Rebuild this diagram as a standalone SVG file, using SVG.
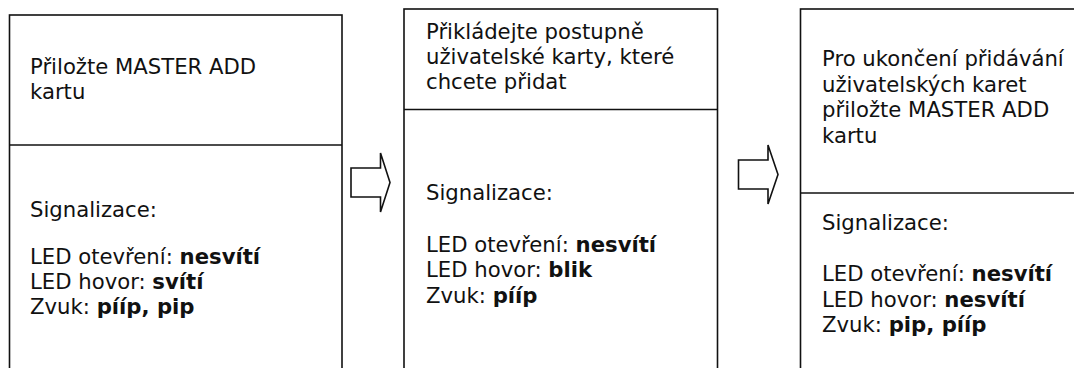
<svg xmlns="http://www.w3.org/2000/svg" width="1074" height="368" viewBox="0 0 1074 368">
<style>
.box{fill:#fff;stroke:#111;stroke-width:1.6}
.div{stroke:#111;stroke-width:1.6}
.arrow{fill:#fff;stroke:#111;stroke-width:1.6;stroke-linejoin:miter}
text{font-family:"DejaVu Sans","Liberation Sans",sans-serif;font-size:21.2px;fill:#111}
.b{font-weight:bold}
</style>
<rect width="1074" height="368" fill="#fff"/>
<g id="step1">
<rect class="box" x="9.5" y="15" width="332.5" height="370"/>
<line class="div" x1="9.5" y1="145" x2="342" y2="145"/>
<text x="30" y="74">Přiložte MASTER ADD</text>
<text x="30" y="99">kartu</text>
<text x="30" y="217">Signalizace:</text>
<text x="30" y="264">LED otevření: <tspan class="b">nesvítí</tspan></text>
<text x="30" y="289">LED hovor: <tspan class="b">svítí</tspan></text>
<text x="30" y="314">Zvuk: <tspan class="b">pííp, pip</tspan></text>
</g>
<g id="step2">
<rect class="box" x="404" y="9" width="313.5" height="380"/>
<line class="div" x1="404" y1="109.5" x2="717.5" y2="109.5"/>
<text x="426" y="39">Přikládejte postupně</text>
<text x="426" y="64">uživatelské karty, které</text>
<text x="426" y="89">chcete přidat</text>
<text x="426" y="200">Signalizace:</text>
<text x="426" y="251.5">LED otevření: <tspan class="b">nesvítí</tspan></text>
<text x="426" y="277">LED hovor: <tspan class="b">blik</tspan></text>
<text x="426" y="302.5">Zvuk: <tspan class="b">pííp</tspan></text>
</g>
<g id="step3">
<rect class="box" x="800.5" y="9" width="300" height="380"/>
<line class="div" x1="800.5" y1="193" x2="1080" y2="193"/>
<text x="822" y="66">Pro ukončení přidávání</text>
<text x="822" y="91.5">uživatelských karet</text>
<text x="822" y="117">přiložte MASTER ADD</text>
<text x="822" y="142.5">kartu</text>
<text x="822" y="230">Signalizace:</text>
<text x="822" y="281">LED otevření: <tspan class="b">nesvítí</tspan></text>
<text x="822" y="306.5">LED hovor: <tspan class="b">nesvítí</tspan></text>
<text x="822" y="332">Zvuk: <tspan class="b">pip, pííp</tspan></text>
</g>
<g id="connectors">
<path class="arrow" d="M351,168 H380.5 V153 L390,182.5 L380.5,212 V197 H351 Z"/>
<path class="arrow" d="M738.5,160 H768 V145 L778,174.5 L768,204 V189 H738.5 Z"/>
</g>
</svg>
